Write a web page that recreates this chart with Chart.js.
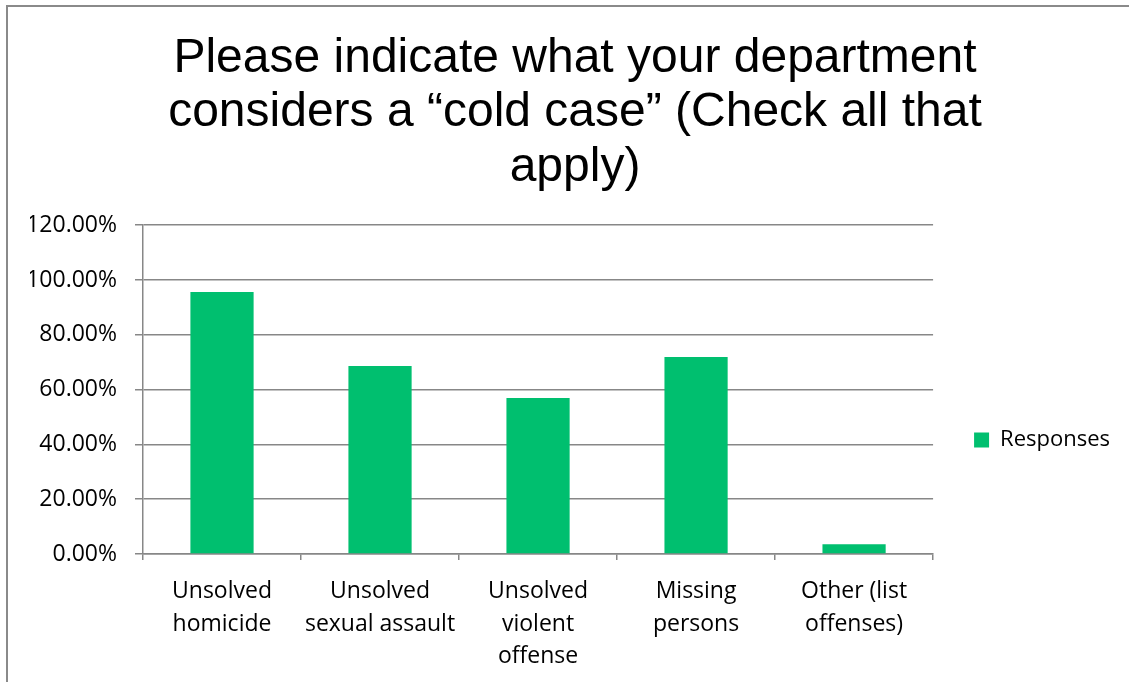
<!DOCTYPE html>
<html>
<head>
<meta charset="utf-8">
<script src="https://cdn.jsdelivr.net/npm/chart.js@4.4.1/dist/chart.umd.min.js"></script>
<style>
  html, body { margin: 0; padding: 0; background: #fff; }
  #wrap { position: relative; width: 1129px; height: 682px; overflow: hidden; }
  #frame { position: absolute; left: 6px; top: 5px; width: 1200px; height: 800px;
           border-left: 2px solid #8a8a8a; border-top: 2px solid #8a8a8a; }
  canvas { position: absolute; left: 0; top: 0; }
</style>
</head>
<body>
<div id="wrap">
  <div id="frame"></div>
  <canvas id="grafico" width="1129" height="682"></canvas>
</div>
<script>
// dados do grafico
const categorias = [
  ["Unsolved", "homicide"],
  ["Unsolved", "sexual assault"],
  ["Unsolved", "violent", "offense"],
  ["Missing", "persons"],
  ["Other (list", "offenses)"]
];
const respostas = [0.956, 0.686, 0.569, 0.719, 0.036];
const tituloLinhas = [
  "Please indicate what your department",
  "considers a \u201Ccold case\u201D (Check all that",
  "apply)"
];
const nomeSerie = "Responses";

const cinza = "#878787";
const verde = "rgb(0,191,111)";
const fonteEixo = "'Open Sans', sans-serif";

const ctx = document.getElementById("grafico").getContext("2d");
new Chart(ctx, {
  type: "bar",
  data: {
    labels: categorias,
    datasets: [{
      label: nomeSerie,
      data: respostas,
      backgroundColor: verde,
      categoryPercentage: 1.0,
      barPercentage: 0.4
    }]
  },
  options: {
    responsive: false,
    animation: false,
    layout: { padding: { left: 30, right: 9, top: 0, bottom: 8 } },
    plugins: {
      title: {
        display: true,
        text: tituloLinhas,
        color: "#000",
        font: { family: "'Liberation Sans', Arial, sans-serif", size: 48, weight: "normal", lineHeight: 1.14 },
        padding: { top: 31, bottom: 30 }
      },
      legend: {
        position: "right",
        // titulo vazio so para empurrar a legenda para baixo
        title: { display: true, text: " ", font: { size: 10, lineHeight: 1 }, padding: { top: 0, bottom: 196 } },
        labels: {
          boxWidth: 15,
          boxHeight: 15,
          padding: 41,
          color: "#000",
          font: { family: fonteEixo, size: 22 }
        }
      },
      tooltip: { enabled: false }
    },
    scales: {
      x: {
        afterFit: function(scale) { scale.height = 120; },
        grid: { display: true, drawOnChartArea: false, drawTicks: true, tickLength: 6, color: cinza, lineWidth: 1.5 },
        border: { display: true, color: cinza, width: 1.5 },
        ticks: {
          color: "#000",
          maxRotation: 0,
          autoSkip: false,
          padding: 15,
          font: { family: fonteEixo, size: 23, lineHeight: 1.42 }
        }
      },
      y: {
        min: 0,
        max: 1.2,
        afterFit: function(scale) { scale.width = 113; },
        grid: { color: cinza, lineWidth: 1.5, tickLength: 8 },
        border: { display: true, color: cinza, width: 1.5 },
        ticks: {
          stepSize: 0.2,
          color: "#000",
          padding: 18,
          font: { family: fonteEixo, size: 23 },
          callback: function(v) { return (v * 100).toFixed(2) + "%"; }
        }
      }
    }
  }
});
</script>
</body>
</html>
